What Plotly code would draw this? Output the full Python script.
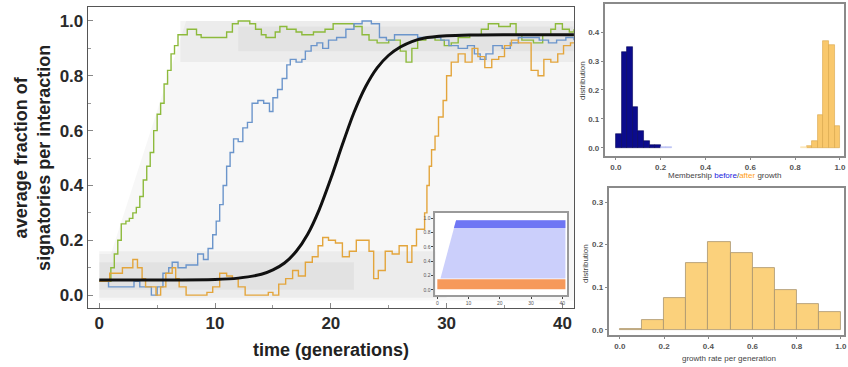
import plotly.graph_objects as go

# ---------------- main panel data ----------------
green_t = [0, 0.5, 1.0, 1.3, 1.6, 1.9, 2.3, 2.6, 2.9, 3.2, 3.5, 3.8, 4.1, 4.4, 4.7, 5.0, 5.3, 5.6, 5.9, 6.2,
           6.5, 6.8, 7.3, 7.6, 8.0, 8.4, 8.8, 9.5, 10.5, 11.0, 11.5, 12.0, 13.0, 13.5, 14.0, 14.4, 15.2, 15.6,
           16.2, 17.0, 17.5, 18.5, 19.5, 20.2, 21.0, 22.0, 22.7, 23.3, 24.0, 25.0, 26.0, 26.5, 27.0, 27.5,
           28.2, 29.0, 29.8, 30.4, 31.0, 32.0, 33.0, 33.6, 34.5, 35.5, 36.0, 36.5, 37.5, 38.3, 39.0, 39.4,
           40.0, 40.6, 41.0]
green_y = [0.05, 0.05, 0.10, 0.15, 0.20, 0.26, 0.27, 0.28, 0.30, 0.32, 0.36, 0.42, 0.47, 0.52, 0.60, 0.66,
           0.70, 0.77, 0.82, 0.88, 0.91, 0.95, 0.95, 0.97, 0.97, 0.95, 0.94, 0.94, 0.94, 0.96, 0.99, 1.00,
           0.99, 0.97, 0.95, 0.94, 0.96, 0.98, 0.97, 0.96, 0.95, 0.96, 0.97, 0.99, 0.99, 0.98, 0.95, 0.93,
           0.92, 0.93, 0.89, 0.85, 0.90, 0.93, 0.94, 0.93, 0.91, 0.92, 0.94, 0.95, 0.97, 0.99, 0.98, 0.99,
           0.95, 0.93, 0.92, 0.95, 0.97, 0.99, 0.97, 0.96, 0.97]

blue_t = [0, 0.8, 1.5, 2.5, 3.0, 3.5, 4.2, 4.5, 5.0, 5.5, 6.0, 6.3, 6.8, 7.5, 8.0, 8.5, 9.0, 9.4, 9.8, 10.1,
          10.4, 10.7, 11.0, 11.3, 11.6, 12.0, 12.4, 12.8, 13.2, 13.7, 14.2, 14.7, 15.0, 15.4, 15.8, 16.2,
          16.5, 17.0, 17.5, 17.8, 18.3, 18.8, 19.3, 19.8, 20.5, 21.3, 22.0, 22.7, 23.5, 24.2, 24.8, 25.5,
          26.5, 27.5, 28.5, 29.5, 30.2, 31.0, 31.8, 32.4, 32.9, 33.4, 34.0, 34.8, 35.5, 36.2, 37.2, 38.0,
          38.8, 39.5, 40.3, 41.0]
blue_y = [0.05, 0.03, 0.03, 0.03, 0.05, 0.03, 0.03, 0.00, 0.03, 0.08, 0.10, 0.12, 0.10, 0.11, 0.11, 0.15,
          0.13, 0.17, 0.22, 0.27, 0.33, 0.40, 0.47, 0.52, 0.57, 0.56, 0.61, 0.63, 0.70, 0.71, 0.70, 0.67,
          0.72, 0.75, 0.79, 0.84, 0.86, 0.85, 0.86, 0.89, 0.91, 0.92, 0.90, 0.93, 0.94, 0.97, 0.99, 1.00,
          0.99, 0.94, 0.93, 0.95, 0.95, 0.94, 0.94, 0.93, 0.91, 0.90, 0.91, 0.88, 0.86, 0.88, 0.91, 0.90,
          0.92, 0.94, 0.94, 0.93, 0.92, 0.93, 0.94, 0.93]

orange_t = [0, 0.6, 0.9, 1.5, 2.0, 2.5, 2.9, 3.3, 3.7, 4.0, 4.5, 4.9, 5.3, 5.75, 6.3, 6.6, 6.9, 7.5, 8.6,
            9.3, 9.8, 10.4, 11.0, 11.5, 12.0, 12.6, 14.1, 14.6, 15.0, 15.5, 16.1, 16.7, 17.2, 17.8, 18.4,
            18.9, 19.3, 19.8, 20.4, 21.0, 21.6, 22.2, 22.8, 23.3, 23.7, 24.1, 24.7, 25.3, 25.9, 26.6, 27.0,
            27.4, 27.9, 28.1, 28.3, 28.5, 28.7, 29.0, 29.3, 29.7, 30.0, 30.4, 31.0, 31.6, 32.2, 32.7, 33.3,
            33.9, 34.5, 35.0, 35.6, 36.2, 36.7, 37.3, 37.9, 38.4, 39.0, 39.6, 40.1, 40.7, 41.0]
orange_y = [0.05, 0.05, 0.08, 0.08, 0.10, 0.10, 0.13, 0.10, 0.06, 0.03, 0.03, 0.00, 0.03, 0.08, 0.10,
            0.06, 0.03, 0.00, 0.00, 0.01, 0.03, 0.08, 0.07, 0.06, 0.03, 0.00, 0.00, 0.01, 0.00, 0.04, 0.06,
            0.09, 0.07, 0.12, 0.14, 0.18, 0.21, 0.20, 0.19, 0.14, 0.16, 0.20, 0.20, 0.16, 0.06, 0.09, 0.16,
            0.15, 0.18, 0.12, 0.18, 0.24, 0.24, 0.30, 0.40, 0.47, 0.53, 0.58, 0.65, 0.71, 0.80, 0.85, 0.88,
            0.85, 0.90, 0.87, 0.83, 0.86, 0.87, 0.91, 0.93, 0.92, 0.92, 0.82, 0.80, 0.86, 0.85, 0.88, 0.91,
            0.92, 0.92]

fit_t = [0, 5, 10, 12, 14, 15, 16, 17, 18, 19, 20, 21, 22, 23, 24, 25, 26, 27, 28, 30, 32, 35, 41]
fit_y = [0.055, 0.055, 0.057, 0.062, 0.076, 0.092, 0.117, 0.159, 0.222, 0.312, 0.425, 0.549, 0.666,
         0.760, 0.829, 0.875, 0.905, 0.925, 0.937, 0.946, 0.949, 0.950, 0.950]

# envelope of the grey ensemble of trajectories
cloud_t = [0, 0, 1, 7.5, 41, 41]
cloud_y = [-0.02, 0.15, 0.15, 1.0, 1.0, -0.02]
low_band_t = [0, 30, 30, 0]
low_band_y = [-0.01, -0.01, 0.16, 0.16]
low_core_t = [0, 22, 22, 0]
low_core_y = [0.02, 0.02, 0.12, 0.12]
high_band_t = [7, 41, 41, 7]
high_band_y = [0.85, 0.85, 1.0, 1.0]
high_core_t = [12, 41, 41, 12]
high_core_y = [0.89, 0.89, 0.98, 0.98]

# ---------------- inset data ----------------
inset_orange_t = [0, 41, 41, 0]
inset_orange_y = [0.01, 0.01, 0.15, 0.15]
inset_blue_t = [1, 6, 41, 41]
inset_blue_y = [0.16, 0.97, 0.97, 0.16]
inset_blue_top_t = [5.3, 41, 41, 6]
inset_blue_top_y = [0.86, 0.86, 0.97, 0.97]

# ---------------- histogram data ----------------
memb_before_x = [0.0125, 0.0375, 0.0625, 0.0875, 0.1125, 0.1375, 0.1625, 0.1875]
memb_before_y = [0.047, 0.33, 0.35, 0.14, 0.06, 0.025, 0.01, 0.01]
memb_before_tail_x = [0.2125, 0.2375]
memb_before_tail_y = [0.003, 0.003]
memb_after_x = [0.8625, 0.8875, 0.9125, 0.9375, 0.9625, 0.9875]
memb_after_y = [0.008, 0.023, 0.115, 0.37, 0.355, 0.077]
memb_after_tail_x = [0.8375]
memb_after_tail_y = [0.003]

growth_x = [0.05, 0.15, 0.25, 0.35, 0.45, 0.55, 0.65, 0.75, 0.85, 0.95]
growth_y = [0.003, 0.024, 0.076, 0.156, 0.207, 0.181, 0.145, 0.094, 0.061, 0.043]

FONT = "Arial, Liberation Sans, sans-serif"

fig = go.Figure()

# grey cloud
grey_specs = [(cloud_t, cloud_y, "rgba(0,0,0,0.03)"),
              (low_band_t, low_band_y, "rgba(0,0,0,0.045)"),
              (low_core_t, low_core_y, "rgba(0,0,0,0.04)"),
              (high_band_t, high_band_y, "rgba(0,0,0,0.045)"),
              (high_core_t, high_core_y, "rgba(0,0,0,0.035)")]
for tx, ty, col in grey_specs:
    fig.add_trace(go.Scatter(x=tx, y=ty, fill="toself", fillcolor=col, mode="none",
                             hoverinfo="skip", showlegend=False, xaxis="x", yaxis="y"))

for tx, ty, col in [(green_t, green_y, "#8DBA3C"), (blue_t, blue_y, "#6B95CB"),
                    (orange_t, orange_y, "#E3A53C")]:
    fig.add_trace(go.Scatter(x=tx, y=ty, mode="lines", line=dict(color=col, width=1.4, shape="hv"),
                             showlegend=False, xaxis="x", yaxis="y"))

fig.add_trace(go.Scatter(x=fit_t, y=fit_y, mode="lines",
                         line=dict(color="#111111", width=3, shape="spline", smoothing=0.8),
                         showlegend=False, xaxis="x", yaxis="y"))

# inset
fig.add_trace(go.Scatter(x=inset_orange_t, y=inset_orange_y, fill="toself", fillcolor="#F6995A",
                         mode="none", showlegend=False, xaxis="x2", yaxis="y2"))
fig.add_trace(go.Scatter(x=inset_blue_t, y=inset_blue_y, fill="toself", fillcolor="rgba(130,140,245,0.42)",
                         mode="none", showlegend=False, xaxis="x2", yaxis="y2"))
fig.add_trace(go.Scatter(x=inset_blue_top_t, y=inset_blue_top_y, fill="toself",
                         fillcolor="rgba(60,70,240,0.65)",
                         mode="none", showlegend=False, xaxis="x2", yaxis="y2"))

# membership histogram
fig.add_trace(go.Bar(x=memb_before_x, y=memb_before_y, width=0.025, marker=dict(color="#0B0B8C",
                     line=dict(color="#06065A", width=0.6)), showlegend=False, xaxis="x3", yaxis="y3"))
fig.add_trace(go.Bar(x=memb_before_tail_x, y=memb_before_tail_y, width=0.025, marker=dict(color="#B8C0F4",
                     line=dict(color="#B8C0F4", width=0.6)), showlegend=False, xaxis="x3", yaxis="y3"))
fig.add_trace(go.Bar(x=memb_after_x, y=memb_after_y, width=0.025, marker=dict(color="#F9C86C",
                     line=dict(color="#D8A448", width=0.6)), showlegend=False, xaxis="x3", yaxis="y3"))
fig.add_trace(go.Bar(x=memb_after_tail_x, y=memb_after_tail_y, width=0.025, marker=dict(color="#FCE4B4",
                     line=dict(color="#FCE4B4", width=0.6)), showlegend=False, xaxis="x3", yaxis="y3"))

# growth histogram
fig.add_trace(go.Bar(x=growth_x, y=growth_y, width=0.1, marker=dict(color="#FBD17C",
                     line=dict(color="#A89470", width=0.8)), showlegend=False, xaxis="x4", yaxis="y4"))

W, H = 848, 367
def px(a, b):
    return [a / W, b / W]
def py(top, bottom):
    return [1 - bottom / H, 1 - top / H]

main_tick = dict(family=FONT, size=17, color="#2a2a2a", weight="bold")
small_tick = dict(family=FONT, size=8, color="#555555", weight="bold")
inset_tick = dict(family=FONT, size=5, color="#555555")

fig.update_layout(
    width=W, height=H, autosize=False,
    margin=dict(l=0, r=0, t=0, b=0),
    paper_bgcolor="white", plot_bgcolor="white",
    barmode="overlay", bargap=0,
    font=dict(family=FONT),
    xaxis=dict(domain=px(88, 576), range=[-1.0, 41.0], anchor="y",
               tickvals=[0, 10, 20, 30, 40], tickfont=main_tick,
               showline=True, mirror=True, linecolor="#555555", linewidth=1,
               ticks="inside", ticklen=5, tickcolor="#888888", showgrid=False, zeroline=False,
               minor=dict(dtick=5, ticks="inside", ticklen=3, tickcolor="#999999")),
    yaxis=dict(domain=py(7, 308), range=[-0.047, 1.051], anchor="x",
               tickvals=[0, 0.2, 0.4, 0.6, 0.8, 1.0], tickformat=".1f", tickfont=main_tick,
               showline=True, mirror=True, linecolor="#555555", linewidth=1,
               ticks="inside", ticklen=5, tickcolor="#888888", showgrid=False, zeroline=False,
               minor=dict(dtick=0.1, ticks="inside", ticklen=3, tickcolor="#999999")),
    xaxis2=dict(domain=px(437, 569), range=[-0.6, 41.5], anchor="y2",
                tickvals=[0, 10, 20, 30, 40], tickfont=inset_tick, ticks="outside", ticklen=2,
                showline=True, mirror=True, linecolor="#9a9a9a", linewidth=2,
                showgrid=False, zeroline=False),
    yaxis2=dict(domain=py(213, 295), range=[-0.07, 1.07], anchor="x2",
                tickvals=[0, 0.2, 0.4, 0.6, 0.8, 1.0], tickformat=".1f", tickfont=inset_tick,
                ticks="outside", ticklen=2,
                showline=True, mirror=True, linecolor="#9a9a9a", linewidth=2,
                showgrid=False, zeroline=False),
    xaxis3=dict(domain=px(607, 847), range=[-0.049, 1.018], anchor="y3",
                tickvals=[0, 0.2, 0.4, 0.6, 0.8, 1.0], tickformat=".1f", tickfont=small_tick,
                ticks="outside", ticklen=2, tickcolor="#888888", ticklabeloverflow="allow",
                showline=True, mirror=True, linecolor="#8a8a8a", linewidth=2,
                showgrid=False, zeroline=False),
    yaxis3=dict(domain=py(4, 156), range=[-0.028, 0.497], anchor="x3",
                tickvals=[0, 0.1, 0.2, 0.3, 0.4], tickformat=".1f", tickfont=small_tick,
                ticks="outside", ticklen=2, tickcolor="#888888",
                showline=True, mirror=True, linecolor="#8a8a8a", linewidth=2,
                showgrid=False, zeroline=False),
    xaxis4=dict(domain=px(611, 847), range=[-0.05, 1.014], anchor="y4",
                tickvals=[0, 0.2, 0.4, 0.6, 0.8, 1.0], tickformat=".1f", tickfont=small_tick,
                ticks="outside", ticklen=2, tickcolor="#888888", ticklabeloverflow="allow",
                showline=True, mirror=True, linecolor="#8a8a8a", linewidth=2,
                showgrid=False, zeroline=False),
    yaxis4=dict(domain=py(188, 335), range=[-0.012, 0.333], anchor="x4",
                tickvals=[0, 0.1, 0.2, 0.3], tickformat=".1f", tickfont=small_tick,
                ticks="outside", ticklen=2, tickcolor="#888888",
                showline=True, mirror=True, linecolor="#8a8a8a", linewidth=2,
                showgrid=False, zeroline=False),
)

big_title = dict(family=FONT, size=18, color="#222222", weight="bold")
small_title = dict(family=FONT, size=8, color="#444444")
fig.add_annotation(x=33 / W, y=1 - 158 / H, xref="paper", yref="paper", textangle=-90,
                   text="average fraction of<br>signatories per interaction", showarrow=False,
                   font=big_title, xanchor="center", yanchor="middle")
fig.add_annotation(x=332 / W, y=1 - 350 / H, xref="paper", yref="paper",
                   text="time (generations)", showarrow=False, font=big_title,
                   xanchor="center", yanchor="middle")
fig.add_annotation(x=727 / W, y=1 - 175 / H, xref="paper", yref="paper",
                   text="Membership <span style='color:#2020E0'>before</span>/"
                        "<span style='color:#FFA020'>after</span> growth",
                   showarrow=False, font=small_title, xanchor="center", yanchor="middle")
fig.add_annotation(x=584 / W, y=1 - 80 / H, xref="paper", yref="paper", textangle=-90,
                   text="distribution", showarrow=False, font=small_title,
                   xanchor="center", yanchor="middle")
fig.add_annotation(x=732 / W, y=1 - 358 / H, xref="paper", yref="paper",
                   text="growth rate per generation", showarrow=False, font=small_title,
                   xanchor="center", yanchor="middle")
fig.add_annotation(x=587 / W, y=1 - 263 / H, xref="paper", yref="paper", textangle=-90,
                   text="distribution", showarrow=False, font=small_title,
                   xanchor="center", yanchor="middle")

fig.write_html("out.html")
